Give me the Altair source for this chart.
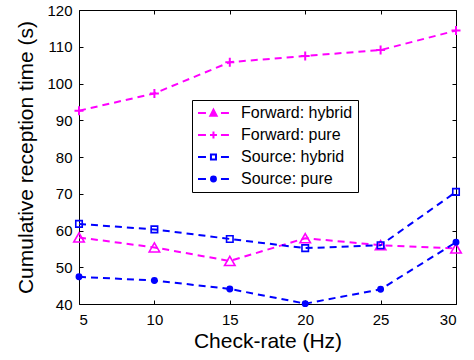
import altair as alt
import pandas as pd

# Check-rate (Hz) on the x axis
rates = [5, 10, 15, 20, 25, 30]

# Series shown in the legend, in legend order
series_names = ["Forward: hybrid", "Forward: pure", "Source: hybrid", "Source: pure"]

# Cumulative reception time (s) for each series
forward_hybrid = [58.1, 55.4, 51.7, 57.9, 56.0, 55.1]
forward_pure = [92.6, 97.3, 105.8, 107.5, 109.1, 114.4]
source_hybrid = [61.8, 60.3, 57.7, 55.2, 56.0, 70.5]
source_pure = [47.4, 46.4, 44.1, 40.1, 44.0, 56.8]

y_ticks = [40, 50, 60, 70, 80, 90, 100, 110, 120]

# Styling per series
series_colors = ["#ff00ff", "#ff00ff", "#0000ff", "#0000ff"]
marker_shapes = ["triangle-up", "M-1,0H1M0,-1V1", "square", "circle"]
marker_sizes = [110, 81, 42, 48]
marker_widths = [1.6, 2.0, 1.6, 1.6]
marker_filled = [False, False, False, True]

# Legend glyphs: a dashed line segment with the marker in the middle
legend_glyphs = [
    "M-1,0H0.14M2.28,0H3.42M1.21,-0.47L1.66,0.4L0.76,0.4Z",
    "M-1,0H0.14M2.28,0H3.42M0.71,0H1.71M1.21,-0.5V0.5",
    "M-1,0H0.14M2.28,0H3.42M0.85,-0.36H1.57V0.36H0.85Z",
    "M-1,0H0.14M2.28,0H3.42M1.56,0A0.35,0.35,0,1,1,0.86,0A0.35,0.35,0,1,1,1.56,0Z",
]
legend_fills = ["#ff00ff", "transparent", "transparent", "#0000ff"]

rows = []
for name, values in zip(series_names, [forward_hybrid, forward_pure, source_hybrid, source_pure]):
    for r, v in zip(rates, values):
        rows.append({"rate": r, "time": v, "series": name})
df = pd.DataFrame(rows)

FONT = "Liberation Sans"
x_scale = alt.Scale(domain=[5, 30], nice=False, zero=False)
y_scale = alt.Scale(domain=[40, 120], nice=False, zero=False)

legend = alt.Legend(
    title=None,
    orient="none",
    legendX=113,
    legendY=90,
    labelFont=FONT,
    labelFontSize=16,
    labelColor="black",
    symbolSize=196,
    symbolStrokeWidth=2,
    symbolOpacity=1,
    labelOffset=28,
    rowPadding=6,
    padding=5,
    strokeColor="black",
    fillColor="white",
    cornerRadius=0,
)

base = alt.Chart(df)

lines = base.mark_line(strokeDash=[7, 5], strokeWidth=2).encode(
    x=alt.X(
        "rate:Q",
        scale=x_scale,
        axis=alt.Axis(
            orient="bottom", values=rates, title="Check-rate (Hz)", offset=-4,
            tickSize=4, domain=False, grid=False, labelPadding=8, titlePadding=3,
        ),
    ),
    y=alt.Y(
        "time:Q",
        scale=y_scale,
        axis=alt.Axis(
            orient="left", values=y_ticks, title="Cumulative reception time (s)",
            offset=-4, tickSize=4, domain=False, grid=False, labelPadding=7, titlePadding=10,
        ),
    ),
    color=alt.Color(
        "series:N",
        scale=alt.Scale(domain=series_names, range=series_colors),
        legend=None,
    ),
)

# One marker layer per series
marker_layers = []
for name, color, shape, size, width, filled in zip(
    series_names, series_colors, marker_shapes, marker_sizes, marker_widths, marker_filled
):
    marker_layers.append(
        base.transform_filter(alt.datum.series == name)
        .mark_point(shape=shape, size=size, strokeWidth=width, color=color,
                    filled=filled, opacity=1)
        .encode(
            x=alt.X("rate:Q", scale=x_scale, axis=None),
            y=alt.Y("time:Q", scale=y_scale, axis=None),
        )
    )

# Legend-only layer: draws no marks, carries the legend glyph scales
key = base.transform_filter("false").mark_point(size=196, strokeWidth=2, opacity=1).encode(
    x=alt.X("rate:Q", scale=x_scale, axis=None),
    y=alt.Y("time:Q", scale=y_scale, axis=None),
    shape=alt.Shape("series:N", scale=alt.Scale(domain=series_names, range=legend_glyphs), legend=legend),
    stroke=alt.Stroke("series:N", scale=alt.Scale(domain=series_names, range=series_colors), legend=legend),
    fill=alt.Fill("series:N", scale=alt.Scale(domain=series_names, range=legend_fills), legend=legend),
)

# Tick marks mirrored on the top and right edges of the box
mirror = base.mark_point(opacity=0).encode(
    x=alt.X(
        "rate:Q",
        scale=x_scale,
        axis=alt.Axis(orient="top", values=rates, labels=False, title=None,
                      offset=-4, tickSize=4, domain=False, grid=False),
    ),
    y=alt.Y(
        "time:Q",
        scale=y_scale,
        axis=alt.Axis(orient="right", values=y_ticks, labels=False, title=None,
                      offset=-4, tickSize=4, domain=False, grid=False),
    ),
)

chart = (
    alt.layer(lines, *marker_layers, key, mirror)
    .resolve_axis(x="independent", y="independent")
    .resolve_scale(shape="independent", fill="independent", stroke="independent")
    .properties(
        width=377,
        height=294,
        autosize=alt.AutoSizeParams(type="none"),
        padding={"left": 79, "top": 10, "right": 18, "bottom": 56},
        background="white",
    )
    .configure_view(stroke="black", strokeWidth=1)
    .configure_axis(
        labelFont=FONT,
        labelFontSize=15,
        labelColor="black",
        tickColor="black",
        tickWidth=1,
        titleFont=FONT,
        titleFontSize=21,
        titleFontWeight="normal",
        titleColor="black",
    )
)

chart.save("out.html", embed_options={"renderer": "svg", "actions": False})
